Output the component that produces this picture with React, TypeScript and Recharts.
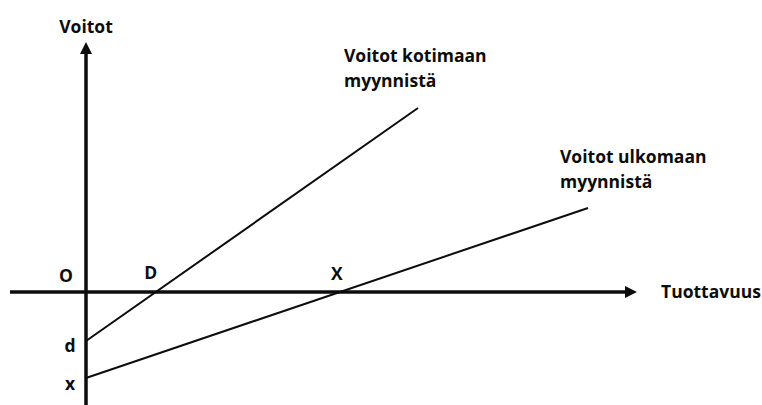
import { LineChart, Line, XAxis, YAxis, ReferenceLine, ReferenceDot } from "recharts";

// axis titles and series names (two-line labels)
const xTitle = "Tuottavuus";
const yTitle = "Voitot";
const domesticName = ["Voitot kotimaan", "myynnistä"];
const foreignName = ["Voitot ulkomaan", "myynnistä"];

// line endpoints (abstract units)
const domesticX = [0, 6.64];
const domesticY = [-0.98, 3.68];
const foreignX = [0, 10.04];
const foreignY = [-1.72, 1.68];

const xDomain = [-1.52, 11.02];
const yDomain = [-2.26, 5];

const domestic = domesticX.map((x, i) => ({ x, y: domesticY[i] }));
const foreign = foreignX.map((x, i) => ({ x, y: foreignY[i] }));

// where a straight line crosses y = 0
const rootOf = (xs: number[], ys: number[]) =>
  xs[0] - (ys[0] * (xs[1] - xs[0])) / (ys[1] - ys[0]);

const pointNames = ["O", "D", "X", "d", "x"];
const pointXs = [0, rootOf(domesticX, domesticY), rootOf(foreignX, foreignY), 0, 0];
const pointYs = [0, 0, 0, domesticY[0], foreignY[0]];

const FONT = "'Open Sans', Lato, sans-serif";
const FS = 17.5;
const INK = "#0d0d0d";

// text offsets from each point, in pixels
const pointOffsets: Record<string, [number, number]> = {
  O: [-20, -17],
  D: [-5, -20],
  X: [-3, -19],
  d: [-16, 4],
  x: [-16, 5],
};

const AxisArrow = (props: any) => {
  const { x1, y1, x2, y2 } = props;
  if (Math.abs(x1 - x2) < 0.5) {
    const top = Math.min(y1, y2);
    const bottom = Math.max(y1, y2);
    return (
      <g>
        <line x1={x1} y1={bottom} x2={x1} y2={top + 10} stroke={INK} strokeWidth={3.5} />
        <polygon points={`${x1},${top} ${x1 - 6},${top + 12} ${x1 + 6},${top + 12}`} fill={INK} />
      </g>
    );
  }
  const left = Math.min(x1, x2);
  const right = Math.max(x1, x2);
  return (
    <g>
      <line x1={left} y1={y1} x2={right - 10} y2={y1} stroke={INK} strokeWidth={3.5} />
      <polygon points={`${right},${y1} ${right - 12},${y1 - 6} ${right - 12},${y1 + 6}`} fill={INK} />
    </g>
  );
};

const pointLabel = (name: string) => (props: any) => {
  const vb = props.viewBox || {};
  const cx = (vb.x ?? 0) + (vb.width ?? 0) / 2;
  const cy = (vb.y ?? 0) + (vb.height ?? 0) / 2;
  const [dx, dy] = pointOffsets[name];
  return (
    <text
      x={cx + dx}
      y={cy + dy}
      textAnchor="middle"
      dominantBaseline="central"
      fontFamily={FONT}
      fontWeight={700}
      fontSize={FS}
      fill={INK}
    >
      {name}
    </text>
  );
};

const seriesLabel = (lines: string[], dx: number, dy: number) => (props: any) => {
  const vb = props.viewBox || {};
  const cx = (vb.x ?? 0) + (vb.width ?? 0) / 2;
  const cy = (vb.y ?? 0) + (vb.height ?? 0) / 2;
  return (
    <text fontFamily={FONT} fontWeight={700} fontSize={FS} fill={INK} dominantBaseline="central">
      {lines.map((t, i) => (
        <tspan key={t} x={cx + dx} y={cy + dy + i * 25}>
          {t}
        </tspan>
      ))}
    </text>
  );
};

export default function App() {
  return (
    <div style={{ position: "absolute", left: 0, top: 0, background: "#fff" }}>
      <LineChart width={762} height={405} margin={{ top: 42, right: 125, bottom: 0, left: 10 }}>
        <XAxis type="number" dataKey="x" domain={xDomain} hide allowDataOverflow />
        <YAxis type="number" dataKey="y" domain={yDomain} hide width={0} allowDataOverflow />
        <ReferenceLine
          y={0}
          shape={AxisArrow}
          label={{ value: xTitle, position: "right", offset: 24, fontFamily: FONT, fontWeight: 700, fontSize: FS, fill: INK }}
        />
        <ReferenceLine
          x={0}
          shape={AxisArrow}
          label={{ value: yTitle, position: "top", offset: 9, fontFamily: FONT, fontWeight: 700, fontSize: FS, fill: INK }}
        />
        <Line
          data={domestic}
          dataKey="y"
          stroke={INK}
          strokeWidth={2}
          dot={false}
          isAnimationActive={false}
        />
        <Line
          data={foreign}
          dataKey="y"
          stroke={INK}
          strokeWidth={2}
          dot={false}
          isAnimationActive={false}
        />
        {pointNames.map((n, i) => (
          <ReferenceDot key={n} x={pointXs[i]} y={pointYs[i]} r={0} fill="none" stroke="none" label={pointLabel(n)} />
        ))}
        <ReferenceDot
          x={domesticX[1]}
          y={domesticY[1]}
          r={0}
          fill="none"
          stroke="none"
          label={seriesLabel(domesticName, -74, -53)}
        />
        <ReferenceDot
          x={foreignX[1]}
          y={foreignY[1]}
          r={0}
          fill="none"
          stroke="none"
          label={seriesLabel(foreignName, -28, -52)}
        />
      </LineChart>
    </div>
  );
}
